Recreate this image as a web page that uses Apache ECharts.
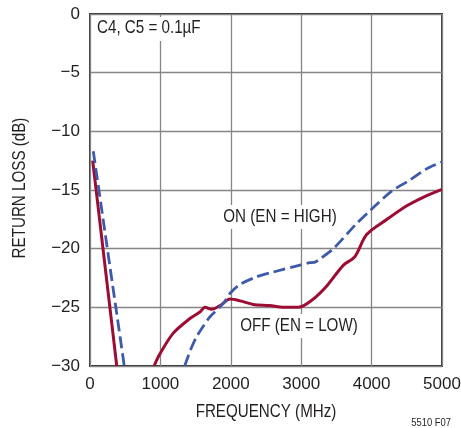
<!DOCTYPE html>
<html>
<head>
<meta charset="utf-8">
<script src="https://cdn.jsdelivr.net/npm/echarts@6/dist/echarts.min.js"></script>
<style>
html,body{margin:0;padding:0;background:#fff;}
#c{width:461px;height:428px;}
</style>
</head>
<body>
<div id="c"></div>
<script>
var FONT = '"Liberation Sans",Arial,sans-serif';
var NARROW = 0.82;
var xTicks = { min: 0, max: 5000, step: 1000 };
var yTicks = { min: -30, max: 0, step: 5 };

// OFF (EN = LOW) — solid red, two visible branches
var offLow = [[38,-12.5],[380,-30]];
var offHigh = [[910,-30],[990,-29.0],[1183,-27.2],[1420,-25.95],[1560,-25.4],[1635,-25.0],[1728,-25.17],[1847,-24.85],[1990,-24.3],[2131,-24.45],[2320,-24.75],[2550,-24.85],[2750,-25.0],[2960,-25.0],[3150,-24.4],[3360,-23.2],[3600,-21.4],[3760,-20.7],[3930,-18.8],[4220,-17.5],[4500,-16.35],[4740,-15.6],[5000,-14.95]];

// ON (EN = HIGH) — dashed blue, two visible branches
var onLow = [[47,-11.7],[487,-30]];
var onHigh = [[1345,-30],[1430,-28.6],[1515,-27.5],[1610,-26.6],[1705,-25.8],[1894,-24.67],[1990,-23.8],[2131,-23.05],[2367,-22.4],[2600,-22.0],[2983,-21.4],[3125,-21.2],[3196,-21.15],[3260,-20.9],[3456,-20.0],[3788,-17.85],[3980,-16.75],[4285,-15.1],[4545,-14.15],[4780,-13.2],[5000,-12.6]];

var RED = '#9c0c33';
var BLUE = '#3d5aab';
var INK = '#231f20';

function minusFmt(v){ return String(v).replace('-', '\u2212'); }
function plainFmt(v){ return String(v); }

var chart = echarts.init(document.getElementById('c'), null, {renderer:'canvas'});
var redStyle = { color: RED, width: 3 };
var blueStyle = { color: BLUE, width: 2.8, type: [12, 5] };

function narrowText(txt, x, y, size, align, rot) {
  return { type: 'text', x: x, y: y, z: 51, rotation: rot || 0, scaleX: NARROW,
    style: { text: txt, font: size + 'px ' + FONT, fill: INK, align: align || 'center', verticalAlign: 'middle' } };
}

chart.setOption({
  animation: false,
  backgroundColor: '#fff',
  grid: { left: 90, right: 19, top: 14, bottom: 62, containLabel: false, outerBoundsMode: 'none',
          show: true, borderColor: '#2a2a2a', borderWidth: 1.8, backgroundColor: 'transparent' },
  xAxis: {
    type: 'value', min: xTicks.min, max: xTicks.max, interval: xTicks.step,
    axisLine: { show: false }, axisTick: { show: false },
    axisLabel: { fontFamily: FONT, fontSize: 17, color: INK, margin: 10, formatter: plainFmt },
    splitLine: { show: true, lineStyle: { color: '#858585', width: 1.3 } }
  },
  yAxis: {
    type: 'value', min: yTicks.min, max: yTicks.max, interval: yTicks.step,
    axisLine: { show: false }, axisTick: { show: false },
    axisLabel: { fontFamily: FONT, fontSize: 17, color: INK, margin: 10, formatter: minusFmt },
    splitLine: { show: true, lineStyle: { color: '#858585', width: 1.3 } }
  },
  series: [
    { type: 'line', data: onLow, symbol: 'none', lineStyle: blueStyle, z: 3 },
    { type: 'line', data: onHigh, symbol: 'none', smooth: 0.3, lineStyle: blueStyle, z: 3 },
    { type: 'line', data: offLow, symbol: 'none', lineStyle: redStyle, z: 2 },
    { type: 'line', data: offHigh, symbol: 'none', smooth: 0.3, lineStyle: redStyle, z: 2 }
  ],
  graphic: [
    { type: 'rect', shape: { x: 94, y: 17, width: 114, height: 24 }, style: { fill: '#fff' }, z: 50 },
    narrowText('C4, C5 = 0.1\u00b5F', 97, 28, 18.5, 'left'),
    { type: 'rect', shape: { x: 218, y: 205, width: 124, height: 24 }, style: { fill: '#fff' }, z: 50 },
    narrowText('ON (EN = HIGH)', 280, 217, 18.5),
    { type: 'rect', shape: { x: 236, y: 314, width: 126, height: 24 }, style: { fill: '#fff' }, z: 50 },
    narrowText('OFF (EN = LOW)', 299, 326, 18.5),
    narrowText('FREQUENCY (MHz)', 266, 412, 18.5),
    narrowText('RETURN LOSS (dB)', 20, 188, 18.5, 'center', Math.PI / 2),
    narrowText('5510 F07', 451, 423, 11.5, 'right')
  ]
});
</script>
</body>
</html>
